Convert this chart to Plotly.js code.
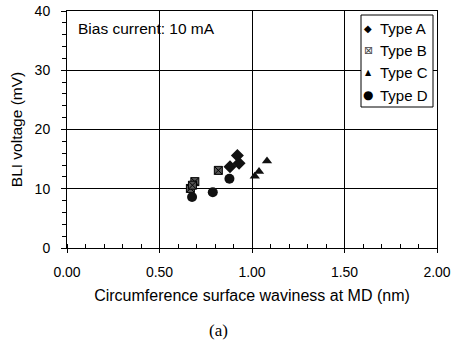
<!DOCTYPE html>
<html><head><meta charset="utf-8">
<script src="https://cdn.plot.ly/plotly-3.0.1.min.js"></script>
<style>body{margin:0;background:#fff}#c{width:455px;height:344px}</style>
</head><body><div id="c"></div>
<script>
const seriesNames = ["Type A", "Type B", "Type C", "Type D"];
const typeA_x = [0.921, 0.93, 0.881];
const typeA_y = [15.6, 14.3, 13.7];
const typeB_x = [0.818, 0.691, 0.667, 0.678];
const typeB_y = [13.1, 11.2, 10.05, 10.6];
const typeC_x = [1.015, 1.038, 1.081];
const typeC_y = [12.1, 12.9, 14.7];
const typeD_x = [0.676, 0.788, 0.878];
const typeD_y = [8.6, 9.4, 11.7];
const xTicks = [0, 0.5, 1.0, 1.5, 2.0];
const xTickText = ["0.00", "0.50", "1.00", "1.50", "2.00"];
const yTicks = [0, 10, 20, 30, 40];

const FAM = "Liberation Sans, Arial, sans-serif";
const tickFont = {family: FAM, size: 14, color: "#000"};
const titleFont = {family: FAM, size: 16, color: "#000"};
const styles = [
  {symbol: "diamond", size: 10, color: "#111", glyph: "\u25C6", gsize: 10},
  {symbol: "square-x", size: 8, color: "#555", glyph: "\u22A0", gsize: 11},
  {symbol: "triangle-up", size: 9, color: "#111", glyph: "\u25B2", gsize: 8},
  {symbol: "circle", size: 10, color: "#111", glyph: "\u25CF", gsize: 12}
];
const xs = [typeA_x, typeB_x, typeC_x, typeD_x];
const ys = [typeA_y, typeB_y, typeC_y, typeD_y];
const traces = seriesNames.map((n, i) => ({
  type: "scatter", mode: "markers", name: n, x: xs[i], y: ys[i], showlegend: false,
  marker: {symbol: styles[i].symbol, size: styles[i].size, color: styles[i].color,
           line: {color: "#000", width: styles[i].symbol === "square-x" ? 1 : 0}}
}));

// custom legend (plot area: left 67, top 11, width 370, height 237)
const px = v => (v - 67) / 370;
const py = v => (248 - v) / 237;
const rowY = [28, 50, 72, 95];
const annotations = [
  {text: "Bias current: 10 mA", xref: "paper", yref: "paper", x: px(76), y: py(29),
   xanchor: "left", yanchor: "middle", showarrow: false, font: {family: FAM, size: 15.5, color: "#000"}},
  {text: "(a)", xref: "paper", yref: "paper", x: px(218), y: py(330), xanchor: "center", yanchor: "middle",
   showarrow: false, font: {family: "Liberation Serif, Times New Roman, serif", size: 17, color: "#000"}}
];
seriesNames.forEach((n, i) => {
  annotations.push({text: styles[i].glyph, xref: "paper", yref: "paper", x: px(368), y: py(rowY[i]),
    xanchor: "center", yanchor: "middle", showarrow: false,
    font: {family: "DejaVu Sans", size: styles[i].gsize, color: i === 1 ? "#444" : "#000"}});
  annotations.push({text: n, xref: "paper", yref: "paper", x: px(378), y: py(rowY[i]),
    xanchor: "left", yanchor: "middle", showarrow: false, font: {family: FAM, size: 15, color: "#000"}});
});

const layout = {
  width: 455, height: 344,
  margin: {l: 67, r: 18, t: 11, b: 96},
  paper_bgcolor: "#fff", plot_bgcolor: "#fff",
  font: tickFont,
  showlegend: false,
  xaxis: {
    range: [0, 2], tickvals: xTicks, ticktext: xTickText, tickfont: tickFont,
    showgrid: true, gridcolor: "#000", gridwidth: 1,
    showline: true, linecolor: "#000", linewidth: 1, mirror: true,
    ticks: "outside", ticklen: 4, tickcolor: "#000", zeroline: false, ticklabelstandoff: 7,
    minor: {dtick: 0.1, ticks: "inside", ticklen: 4, tickcolor: "#000", showgrid: false},
    title: {text: "Circumference surface waviness at MD (nm)", font: titleFont, standoff: 11}
  },
  yaxis: {
    range: [0, 40], tickvals: yTicks, tickfont: tickFont,
    showgrid: true, gridcolor: "#000", gridwidth: 1,
    showline: true, linecolor: "#000", linewidth: 1, mirror: true,
    ticks: "outside", ticklen: 5, tickcolor: "#000", zeroline: false, ticklabelstandoff: 8,
    minor: {dtick: 2, ticks: "outside", ticklen: 4, tickcolor: "#000", showgrid: false},
    title: {text: "BLI voltage (mV)", font: {family: FAM, size: 15.5, color: "#000"}, standoff: 8}
  },
  shapes: [
    {type: "rect", xref: "paper", yref: "paper", x0: px(361), x1: px(433), y0: py(107), y1: py(15),
     line: {color: "#000", width: 1}, fillcolor: "#fff", layer: "above"}
  ],
  annotations: annotations
};
Plotly.newPlot("c", traces, layout, {displayModeBar: false, staticPlot: true});
</script></body></html>
